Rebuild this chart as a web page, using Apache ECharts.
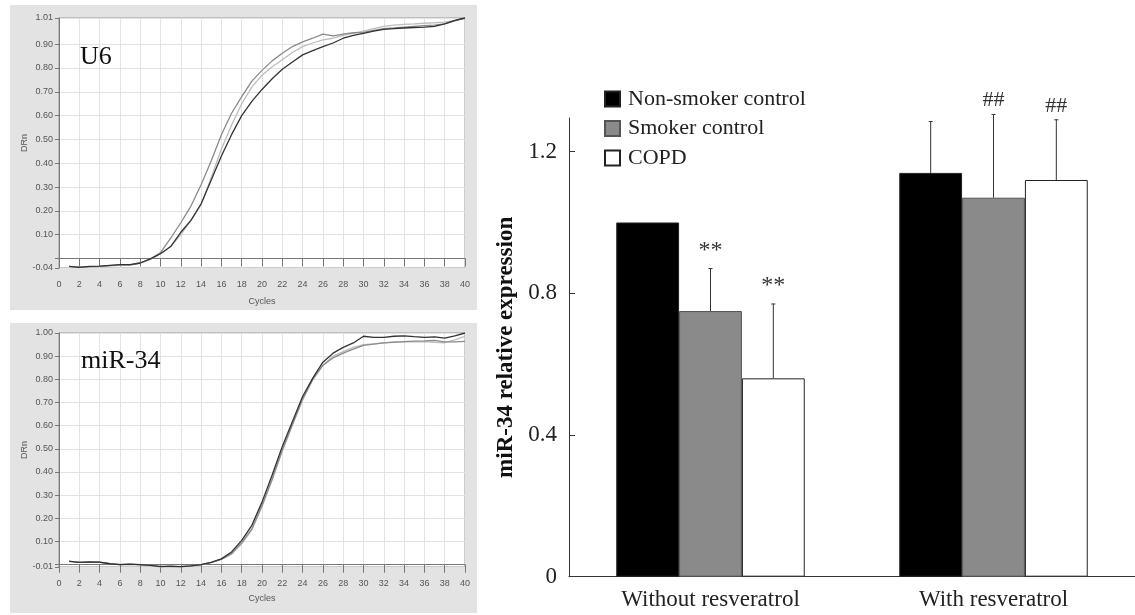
<!DOCTYPE html>
<html>
<head>
<meta charset="utf-8">
<script src="https://cdn.jsdelivr.net/npm/echarts@6/dist/echarts.min.js"></script>
<style>
html, body { margin: 0; padding: 0; background: #fff; }
#chart { width: 1135px; height: 615px; }
</style>
</head>
<body>
<div id="chart"></div>
<script>
// amplification plots (left)
const cycles = [1,2,3,4,5,6,7,8,9,10,11,12,13,14,15,16,17,18,19,20,21,22,23,24,25,26,27,28,29,30,31,32,33,34,35,36,37,38,39,40];
const u6Mid = [-0.033,-0.036,-0.034,-0.033,-0.030,-0.027,-0.027,-0.019,-0.002,0.025,0.085,0.150,0.220,0.310,0.410,0.520,0.610,0.680,0.745,0.790,0.830,0.862,0.890,0.910,0.925,0.942,0.935,0.942,0.948,0.950,0.958,0.965,0.968,0.972,0.975,0.978,0.980,0.985,0.998,1.010];
const u6Light = [-0.034,-0.036,-0.034,-0.034,-0.031,-0.029,-0.028,-0.020,-0.004,0.020,0.050,0.100,0.160,0.225,0.340,0.460,0.560,0.650,0.720,0.770,0.805,0.835,0.865,0.890,0.905,0.918,0.925,0.937,0.946,0.955,0.965,0.975,0.980,0.983,0.985,0.988,0.990,0.993,1.000,1.010];
const u6Dark = [-0.033,-0.037,-0.033,-0.032,-0.029,-0.026,-0.026,-0.019,-0.002,0.020,0.050,0.110,0.160,0.230,0.330,0.430,0.520,0.600,0.660,0.710,0.755,0.795,0.825,0.855,0.873,0.890,0.905,0.925,0.937,0.945,0.955,0.962,0.965,0.968,0.970,0.972,0.975,0.985,1.000,1.010];
const mirDark = [0.014,0.010,0.012,0.011,0.004,0.000,0.002,0.000,-0.003,-0.008,-0.006,-0.008,-0.005,0.000,0.010,0.025,0.055,0.105,0.170,0.270,0.387,0.510,0.618,0.726,0.805,0.874,0.913,0.938,0.957,0.986,0.981,0.981,0.986,0.988,0.984,0.981,0.983,0.978,0.988,1.000];
const mirLight = [0.014,0.011,0.011,0.012,0.005,0.001,0.002,0.000,-0.004,-0.010,-0.010,-0.008,-0.006,-0.001,0.009,0.023,0.045,0.090,0.150,0.250,0.365,0.490,0.603,0.711,0.798,0.862,0.900,0.920,0.938,0.950,0.953,0.957,0.960,0.962,0.962,0.963,0.960,0.958,0.970,0.985];
const mirMid = [0.015,0.010,0.011,0.010,0.004,0.000,0.001,-0.001,-0.003,-0.007,-0.007,-0.009,-0.005,0.000,0.010,0.024,0.048,0.095,0.155,0.255,0.370,0.495,0.605,0.715,0.800,0.860,0.893,0.913,0.930,0.947,0.952,0.957,0.961,0.963,0.965,0.966,0.968,0.962,0.962,0.964];
const u6Ticks = [-0.04, 0, 0.1, 0.2, 0.3, 0.4, 0.5, 0.6, 0.7, 0.8, 0.9, 1.01];
const u6Labels = [-0.04, 0.1, 0.2, 0.3, 0.4, 0.5, 0.6, 0.7, 0.8, 0.9, 1.01];
const mirTicks = [-0.01, 0, 0.1, 0.2, 0.3, 0.4, 0.5, 0.6, 0.7, 0.8, 0.9, 1.0];
const mirLabels = [-0.01, 0.1, 0.2, 0.3, 0.4, 0.5, 0.6, 0.7, 0.8, 0.9, 1.0];

// bar chart (right)
const groups = ['Without resveratrol', 'With resveratrol'];
const nonSmoker = [1.0, 1.14];
const nonSmokerErr = [0, 0.145];
const smoker = [0.75, 1.07];
const smokerErr = [0.12, 0.235];
const copd = [0.56, 1.12];
const copdErr = [0.21, 0.17];
const smokerMarks = ['**', '##'];
const copdMarks = ['**', '##'];
const barTicks = [0, 0.4, 0.8, 1.2];

const barRatio = 0.222;
const serif = '"Liberation Serif", "Times New Roman", serif';
const sans = '"Liberation Sans", Arial, sans-serif';

let chart = echarts.init(document.getElementById('chart'));

function pairs(vals) {
    return cycles.map((c, i) => [c, vals[i]]);
}

function curve(vals, color, g) {
    return {
        type: 'line',
        xAxisIndex: g,
        yAxisIndex: g,
        data: pairs(vals),
        showSymbol: false,
        silent: true,
        lineStyle: { color: color, width: 1.3 },
        z: 3
    };
}

function cycleAxis(g, gap) {
    return {
        gridIndex: g,
        type: 'value',
        min: 0,
        max: 40,
        interval: 2,
        name: 'Cycles',
        nameLocation: 'middle',
        nameGap: gap,
        nameTextStyle: { fontFamily: sans, fontSize: 9, color: '#555' },
        axisLine: { lineStyle: { color: '#777' } },
        axisTick: { length: 8, lineStyle: { color: '#777' } },
        axisLabel: { fontFamily: sans, fontSize: 9, color: '#555', margin: 12 },
        splitLine: { show: true, lineStyle: { color: '#e3e3e3' } }
    };
}

function drnAxis(g, min, max, ticks, labels) {
    return {
        gridIndex: g,
        type: 'value',
        min: min,
        max: max,
        name: 'DRn',
        nameLocation: 'middle',
        nameGap: 27,
        nameTextStyle: { fontFamily: sans, fontSize: 9, color: '#555' },
        axisLine: { show: true, lineStyle: { color: '#777' } },
        axisTick: { show: true, length: 4, customValues: ticks, lineStyle: { color: '#777' } },
        axisLabel: {
            fontFamily: sans, fontSize: 9, color: '#555', margin: 6,
            customValues: labels,
            formatter: v => v.toFixed(2)
        },
        splitLine: { show: true, lineStyle: { color: '#e3e3e3' } }
    };
}

function errorSeries(vals, errs, marks, idx) {
    return {
        type: 'custom',
        xAxisIndex: 2,
        yAxisIndex: 2,
        silent: true,
        clip: false,
        z: 5,
        data: vals.map((v, i) => [i, v, errs[i]]),
        renderItem: function (params, api) {
            const catW = api.size([1, 0])[0];
            const off = (idx - 1) * catW * barRatio;
            const base = api.coord([api.value(0), api.value(1)]);
            const top = api.coord([api.value(0), api.value(1) + api.value(2)]);
            const x = base[0] + off;
            const children = [];
            if (api.value(2) > 0) {
                children.push({ type: 'line', shape: { x1: x, y1: base[1], x2: x, y2: top[1] }, style: { stroke: '#333', lineWidth: 1 } });
                children.push({ type: 'line', shape: { x1: x - 2, y1: top[1], x2: x + 2, y2: top[1] }, style: { stroke: '#333', lineWidth: 1 } });
            }
            const mark = marks ? marks[params.dataIndex] : null;
            if (mark) {
                const star = mark === '**';
                children.push({
                    type: 'text',
                    style: {
                        text: mark, x: x, y: top[1] - (star ? 6 : 3),
                        align: 'center', verticalAlign: 'bottom',
                        font: (star ? '24px ' : '22px ') + serif, fill: '#333'
                    }
                });
            }
            return { type: 'group', children: children };
        }
    };
}

let option = {
    animation: false,
    backgroundColor: '#fff',
    graphic: [
        { type: 'rect', shape: { x: 10, y: 5, width: 467, height: 305 }, style: { fill: '#e3e3e3' }, z: -10 },
        { type: 'rect', shape: { x: 10, y: 323, width: 467, height: 290 }, style: { fill: '#e3e3e3' }, z: -10 }
    ],
    title: [
        { text: 'U6', left: 80, top: 44, padding: 0, textStyle: { fontFamily: serif, fontSize: 26, fontWeight: 'normal', color: '#111' } },
        { text: 'miR-34', left: 81, top: 348, padding: 0, textStyle: { fontFamily: serif, fontSize: 26, fontWeight: 'normal', color: '#111' } }
    ],
    legend: {
        data: ['Non-smoker control', 'Smoker control', 'COPD'],
        orient: 'vertical',
        left: 599,
        top: 83,
        itemWidth: 15,
        itemHeight: 15,
        itemGap: 7.5,
        icon: 'rect',
        textStyle: { fontFamily: serif, fontSize: 22, color: '#222', padding: [0, 0, 0, 3] }
    },
    grid: [
        { left: 59, top: 18, width: 406, height: 250, show: true, backgroundColor: '#fff', borderColor: '#999', borderWidth: 1 },
        { left: 59, top: 333, width: 406, height: 234, show: true, backgroundColor: '#fff', borderColor: '#999', borderWidth: 1 },
        { left: 569, top: 118, width: 572, height: 458.7 }
    ],
    xAxis: [
        cycleAxis(0, 29),
        cycleAxis(1, 27),
        {
            gridIndex: 2,
            type: 'category',
            data: groups,
            axisLine: { lineStyle: { color: '#333' } },
            axisTick: { inside: true, length: 9, lineStyle: { color: '#333' } },
            axisLabel: { fontFamily: serif, fontSize: 23, color: '#222', margin: 12 }
        }
    ],
    yAxis: [
        drnAxis(0, -0.04, 1.01, u6Ticks, u6Labels),
        drnAxis(1, -0.01, 1.0, mirTicks, mirLabels),
        {
            gridIndex: 2,
            type: 'value',
            min: 0,
            max: 1.295,
            name: 'miR-34 relative expression',
            nameLocation: 'middle',
            nameGap: 51,
            nameTextStyle: { fontFamily: serif, fontSize: 23, fontWeight: 'bold', color: '#111' },
            axisLine: { show: true, lineStyle: { color: '#333' } },
            axisTick: { show: true, inside: true, length: 6, customValues: barTicks, lineStyle: { color: '#333' } },
            axisLabel: { fontFamily: serif, fontSize: 23, color: '#222', margin: 12, customValues: barTicks },
            splitLine: { show: false }
        }
    ],
    series: [
        curve(u6Light, '#bdbdbd', 0),
        curve(u6Mid, '#8a8a8a', 0),
        curve(u6Dark, '#333', 0),
        curve(mirLight, '#bdbdbd', 1),
        curve(mirMid, '#8a8a8a', 1),
        curve(mirDark, '#333', 1),
        {
            name: 'Non-smoker control',
            type: 'bar',
            xAxisIndex: 2,
            yAxisIndex: 2,
            data: nonSmoker,
            barWidth: '22.2%',
            barGap: '0%',
            itemStyle: { color: '#000', borderColor: '#222', borderWidth: 1 }
        },
        {
            name: 'Smoker control',
            type: 'bar',
            xAxisIndex: 2,
            yAxisIndex: 2,
            data: smoker,
            barWidth: '22.2%',
            barGap: '0%',
            itemStyle: { color: '#8a8a8a', borderColor: '#555', borderWidth: 1 }
        },
        {
            name: 'COPD',
            type: 'bar',
            xAxisIndex: 2,
            yAxisIndex: 2,
            data: copd,
            barWidth: '22.2%',
            barGap: '0%',
            itemStyle: { color: '#fff', borderColor: '#222', borderWidth: 1 }
        },
        errorSeries(nonSmoker, nonSmokerErr, null, 0),
        errorSeries(smoker, smokerErr, smokerMarks, 1),
        errorSeries(copd, copdErr, copdMarks, 2)
    ]
};
chart.setOption(option);

window.addEventListener('resize', () => {
    chart.resize()
})
</script>
</body>
</html>
